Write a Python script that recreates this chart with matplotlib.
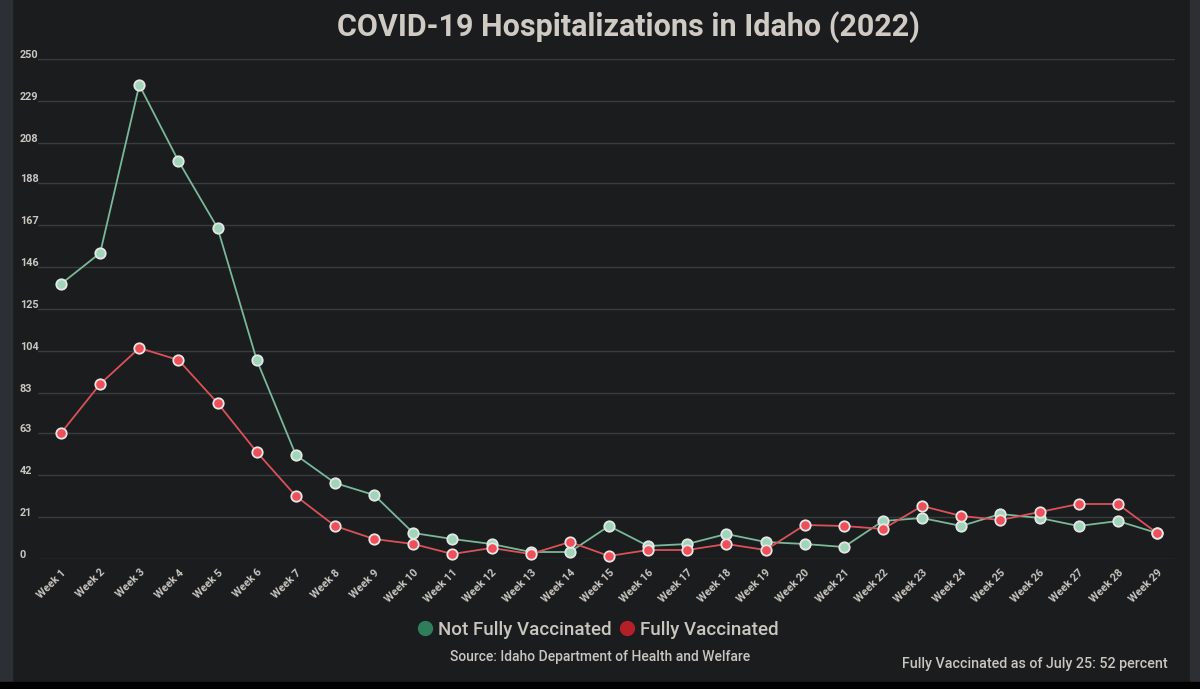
import matplotlib
matplotlib.use("Agg")
import matplotlib.pyplot as plt
from matplotlib.patches import Rectangle
from matplotlib.lines import Line2D

weeks = [f"Week {i}" for i in range(1, 30)]
not_fully = [137.5, 153, 237, 199, 165.5, 99.5, 52, 38, 32, 13, 10, 7.5, 3.5, 3.5,
             16.5, 6.5, 7.5, 12.5, 8.5, 7.5, 6, 19, 20.5, 16.5, 22.5, 20.5, 16.5, 19, 13]
fully = [63, 87.5, 105.5, 99.5, 78, 53.5, 31.5, 16.5, 10, 7.5, 2.5, 5.5, 2.5, 8.5,
         1.5, 4.5, 4.5, 7.5, 4.5, 17, 16.5, 15, 26.5, 21.5, 19.5, 23.5, 27.5, 27.5, 13]
y_ticks = [0, 21, 42, 63, 83, 104, 125, 146, 167, 188, 208, 229, 250]

BG = "#1b1c1e"
TXT = "#c9c5bf"
plt.rcParams['font.family'] = ['Roboto', 'DejaVu Sans']

W, H = 1200, 689
fig = plt.figure(figsize=(W / 100, H / 100), dpi=100, facecolor=BG)

# side strips
fig.patches.append(Rectangle((0, 0), 12 / W, 1, transform=fig.transFigure, color="#2c3034", zorder=0))
fig.patches.append(Rectangle((1190 / W, 0), 10 / W, 1, transform=fig.transFigure, color="#2c3034", zorder=0))
fig.patches.append(Rectangle((0, 0), 1, 7 / H, transform=fig.transFigure, color="#000000", zorder=1))

left, right = 38, 1175
top, bottom = 59, 559
ax = fig.add_axes([left / W, 1 - bottom / H, (right - left) / W, (bottom - top) / H])
ax.set_facecolor(BG)
x = list(range(len(weeks)))
ax.set_xlim(-0.588, 28.46)
ax.set_ylim(0, 250)

for t in y_ticks:
    ax.axhline(t, color="#3a3b3e", lw=1.0, zorder=1)
    ax.annotate(str(t), xy=(20 / W, 1 - (bottom - (t / 250) * (bottom - top)) / H),
                xycoords='figure fraction', xytext=(0, -0.5), textcoords='offset points',
                ha='left', va='bottom', fontsize=7.8, color=TXT, fontweight='bold')

ax.plot(x, not_fully, color="#79b898", lw=1.3, marker='o', markersize=7.5,
        markerfacecolor="#9fd6b9", markeredgecolor="#e6e6e6", markeredgewidth=1.3,
        zorder=3, clip_on=False)
ax.plot(x, fully, color="#d95259", lw=1.3, marker='o', markersize=7.5,
        markerfacecolor="#ef4f58", markeredgecolor="#e6e6e6", markeredgewidth=1.3,
        zorder=4, clip_on=False)

ax.set_xticks(x)
ax.set_xticklabels(weeks, rotation=45, ha='right', rotation_mode='anchor',
                   fontsize=7.8, color=TXT, fontweight='bold')
ax.tick_params(axis='x', length=0, pad=6)
ax.set_yticks([])
for s in ax.spines.values():
    s.set_visible(False)

fig.text(628 / W, 1 - 27 / H, "COVID-19 Hospitalizations in Idaho (2022)", ha='center', va='center',
         fontsize=22, fontweight='bold', color="#cfcac3")

handles = [Line2D([], [], ls='none', marker='o', markersize=10, color="#2e7d5b"),
           Line2D([], [], ls='none', marker='o', markersize=10, color="#b3202a")]
fig.legend(handles, ["Not Fully Vaccinated", "Fully Vaccinated"], loc='center',
           bbox_to_anchor=(597 / W, 1 - 630 / H), ncol=2, frameon=False,
           prop={'size': 13.5, 'weight': 'medium'}, labelcolor=TXT,
           handletextpad=0.2, columnspacing=0.3, handlelength=1.0)

fig.text(600 / W, 1 - 657 / H, "Source: Idaho Department of Health and Welfare", ha='center', va='center',
         fontsize=10, color=TXT, fontweight='medium')
fig.text(1168 / W, 1 - 664 / H, "Fully Vaccinated as of July 25: 52 percent", ha='right', va='center',
         fontsize=10.3, color=TXT, fontweight='medium')

fig.savefig("out.png", dpi=100, facecolor=BG)
